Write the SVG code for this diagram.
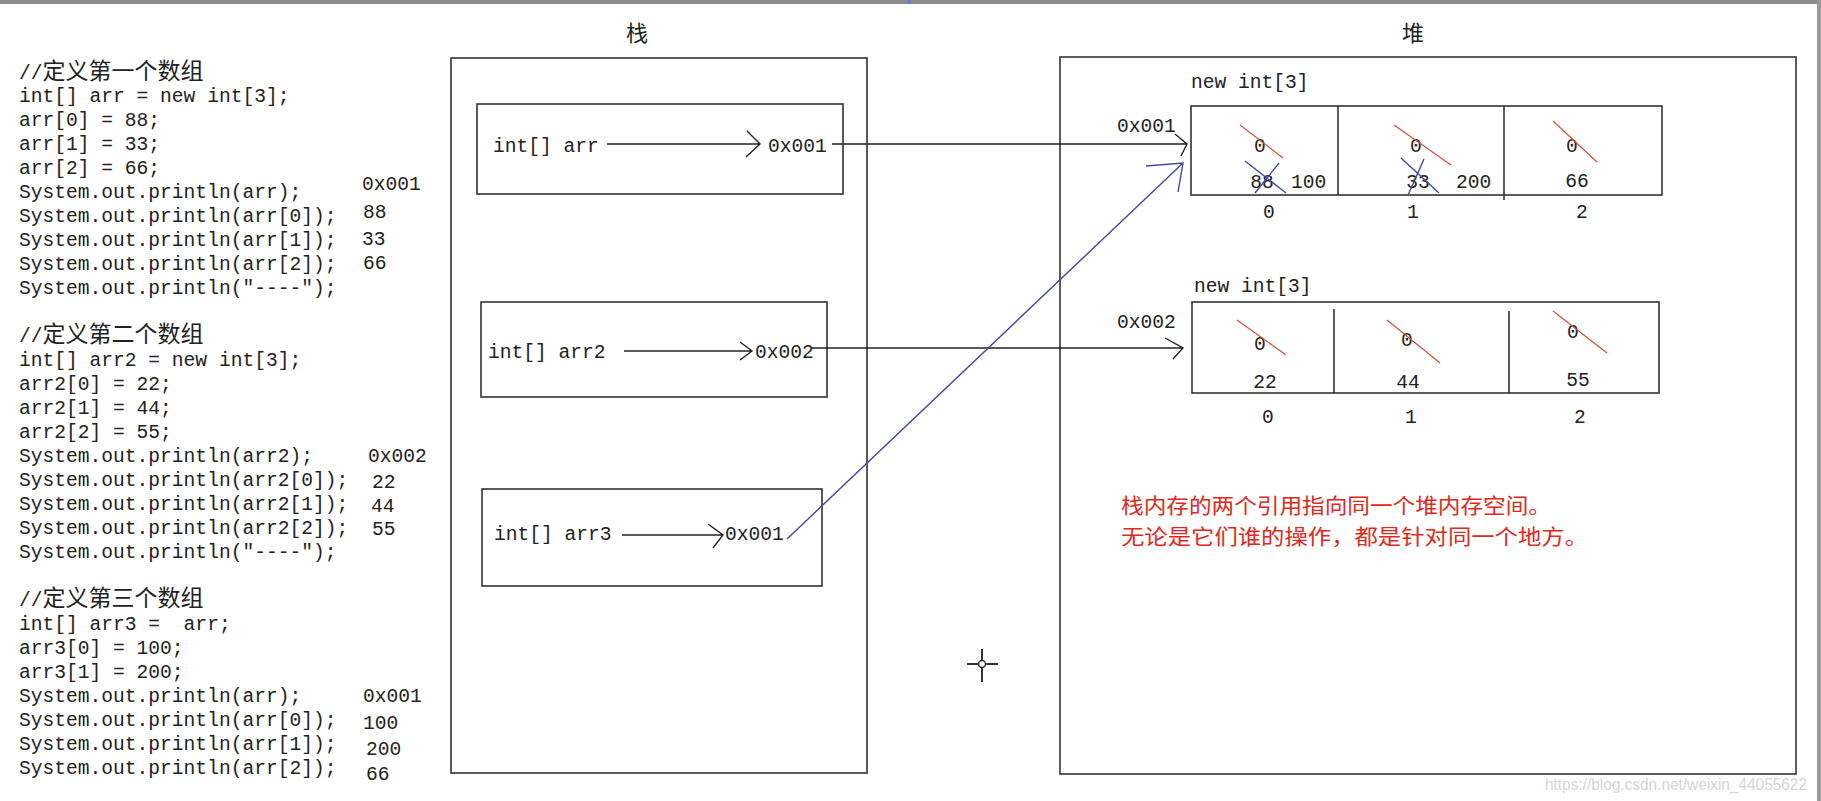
<svg xmlns="http://www.w3.org/2000/svg" width="1821" height="801" viewBox="0 0 1821 801">
<style>
.code{font-family:"Liberation Mono","Noto Sans CJK SC",monospace;font-size:19.6px;fill:#222;white-space:pre}
.cjk{font-family:"Noto Sans CJK SC",sans-serif;font-size:23px}
.title{font-family:"Noto Sans CJK SC",sans-serif;font-size:22px;fill:#222}
.note{font-family:"Noto Sans CJK SC",sans-serif;font-size:21px;fill:#e0281c}
.wm{font-family:"Liberation Sans",sans-serif;font-size:16px;fill:#d6d6d6}
.box{fill:none;stroke:#333;stroke-width:1.6}
.ln{fill:none;stroke:#222;stroke-width:1.4}
.blue{fill:none;stroke:#3f48a8;stroke-width:1.4}
.red{stroke:#d0503c;stroke-width:1.2}
.mid{text-anchor:middle}
</style>
<rect width="1821" height="801" fill="#fff"/>
<rect x="0" y="0" width="1821" height="4" fill="#8c8c8c"/>
<rect x="908" y="0" width="3" height="4" fill="#6a7fc8"/>
<rect x="1817" y="0" width="4" height="801" fill="#9a9a9a"/>

<g id="code">
<text class="code" x="19" y="79">//<tspan class="cjk">定义第一个数组</tspan></text>
<text class="code" x="19" y="102">int[] arr = new int[3];</text>
<text class="code" x="19" y="126">arr[0] = 88;</text>
<text class="code" x="19" y="150">arr[1] = 33;</text>
<text class="code" x="19" y="174">arr[2] = 66;</text>
<text class="code" x="19" y="198">System.out.println(arr);</text>
<text class="code" x="19" y="222">System.out.println(arr[0]);</text>
<text class="code" x="19" y="246">System.out.println(arr[1]);</text>
<text class="code" x="19" y="270">System.out.println(arr[2]);</text>
<text class="code" x="19" y="294">System.out.println("----");</text>
<text class="code" x="362" y="190">0x001</text>
<text class="code" x="363" y="218">88</text>
<text class="code" x="362" y="245">33</text>
<text class="code" x="363" y="269">66</text>

<text class="code" x="19" y="342">//<tspan class="cjk">定义第二个数组</tspan></text>
<text class="code" x="19" y="366">int[] arr2 = new int[3];</text>
<text class="code" x="19" y="390">arr2[0] = 22;</text>
<text class="code" x="19" y="414">arr2[1] = 44;</text>
<text class="code" x="19" y="438">arr2[2] = 55;</text>
<text class="code" x="19" y="462">System.out.println(arr2);</text>
<text class="code" x="19" y="486">System.out.println(arr2[0]);</text>
<text class="code" x="19" y="510">System.out.println(arr2[1]);</text>
<text class="code" x="19" y="534">System.out.println(arr2[2]);</text>
<text class="code" x="19" y="558">System.out.println("----");</text>
<text class="code" x="368" y="462">0x002</text>
<text class="code" x="372" y="488">22</text>
<text class="code" x="371" y="512">44</text>
<text class="code" x="372" y="535">55</text>

<text class="code" x="19" y="606">//<tspan class="cjk">定义第三个数组</tspan></text>
<text class="code" x="19" y="630">int[] arr3 =&#160; arr;</text>
<text class="code" x="19" y="654">arr3[0] = 100;</text>
<text class="code" x="19" y="678">arr3[1] = 200;</text>
<text class="code" x="19" y="702">System.out.println(arr);</text>
<text class="code" x="19" y="726">System.out.println(arr[0]);</text>
<text class="code" x="19" y="750">System.out.println(arr[1]);</text>
<text class="code" x="19" y="774">System.out.println(arr[2]);</text>
<text class="code" x="363" y="702">0x001</text>
<text class="code" x="363" y="729">100</text>
<text class="code" x="366" y="755">200</text>
<text class="code" x="366" y="780">66</text>
</g>

<g id="stack">
<text class="title mid" x="637" y="41">栈</text>
<rect class="box" x="451" y="58" width="416" height="715"/>
</g>
<g id="stack-arr">
<rect class="box" x="477" y="104" width="366" height="90"/>
<text class="code" x="493" y="152">int[] arr</text>
<path class="ln" d="M607 144H760M747 131L760 144L746 157"/>
<text class="code" x="768" y="152">0x001</text>
</g>
<g id="stack-arr2">
<rect class="box" x="481" y="302" width="346" height="95"/>
<text class="code" x="488" y="358">int[] arr2</text>
<path class="ln" d="M624 351H752M740 342L752 351L740 360"/>
<text class="code" x="755" y="358">0x002</text>
</g>
<g id="stack-arr3">
<rect class="box" x="482" y="489" width="340" height="97"/>
<text class="code" x="494" y="540">int[] arr3</text>
<path class="ln" d="M622 535H723M708 524L723 535L713 548"/>
<text class="code" x="725" y="540">0x001</text>
</g>

<g id="heap">
<text class="title mid" x="1413" y="41">堆</text>
<rect class="box" x="1060" y="57" width="736" height="717"/>
<text class="note" x="1121" y="513" textLength="430" lengthAdjust="spacingAndGlyphs">栈内存的两个引用指向同一个堆内存空间。</text>
<text class="note" x="1121" y="544" textLength="467" lengthAdjust="spacingAndGlyphs">无论是它们谁的操作，都是针对同一个地方。</text>
</g>

<g id="heap-array1">
<text class="code" x="1191" y="88">new int[3]</text>
<text class="code" x="1117" y="132">0x001</text>
<rect class="box" x="1191" y="106" width="471" height="89"/>
<path class="box" d="M1338 106V195M1504 106V200"/>
<text class="code mid" x="1260" y="152">0</text>
<line class="red" x1="1240" y1="125" x2="1283" y2="158"/>
<text class="code mid" x="1262" y="188">88</text>
<path class="blue" d="M1245 161L1286 193M1279 163L1255 193"/>
<text class="code" x="1291" y="188">100</text>
<text class="code mid" x="1416" y="152">0</text>
<line class="red" x1="1394" y1="125" x2="1451" y2="165"/>
<text class="code mid" x="1418" y="188">33</text>
<path class="blue" d="M1401 158L1439 193M1424 159L1408 195"/>
<text class="code" x="1456" y="188">200</text>
<text class="code mid" x="1572" y="152">0</text>
<line class="red" x1="1553" y1="121" x2="1597" y2="162"/>
<text class="code mid" x="1577" y="187">66</text>
<text class="code mid" x="1269" y="218">0</text>
<text class="code mid" x="1413" y="218">1</text>
<text class="code mid" x="1582" y="218">2</text>
</g>

<g id="heap-array2">
<text class="code" x="1194" y="292">new int[3]</text>
<text class="code" x="1117" y="328">0x002</text>
<rect class="box" x="1192" y="302" width="467" height="91"/>
<path class="box" d="M1334 309V393M1509 311V393"/>
<text class="code mid" x="1260" y="350">0</text>
<line class="red" x1="1237" y1="320" x2="1286" y2="355"/>
<text class="code mid" x="1265" y="388">22</text>
<text class="code mid" x="1407" y="346">0</text>
<line class="red" x1="1387" y1="320" x2="1440" y2="363"/>
<text class="code mid" x="1408" y="388">44</text>
<text class="code mid" x="1573" y="338">0</text>
<line class="red" x1="1553" y1="311" x2="1607" y2="353"/>
<text class="code mid" x="1578" y="386">55</text>
<text class="code mid" x="1268" y="423">0</text>
<text class="code mid" x="1411" y="423">1</text>
<text class="code mid" x="1580" y="423">2</text>
</g>

<g id="connectors">
<path class="ln" d="M832 144H1187M1175 134L1187 144L1181 156"/>
<path class="ln" d="M812 348H1183M1165 338L1183 348L1173 359"/>
<path class="blue" d="M787 539L1183 163M1146 166L1183 163L1178 192"/>
</g>

<g id="cursor">
<path d="M967 664H998M982 649V682" stroke="#333" stroke-width="2"/>
<circle cx="982" cy="664" r="3.5" fill="#fff" stroke="#333" stroke-width="1.5"/>
</g>
<text class="wm" x="1545" y="790" textLength="262" lengthAdjust="spacingAndGlyphs">https://blog.csdn.net/weixin_44055622</text>
</svg>
